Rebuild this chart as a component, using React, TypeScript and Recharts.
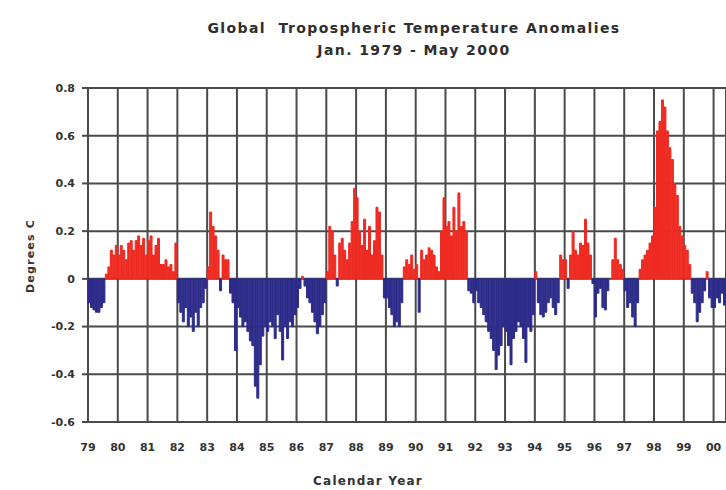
import { ComposedChart, Bar, Cell, XAxis, YAxis, CartesianGrid } from 'recharts';

const RED = '#ee2b22';
const BLUE = '#2d2c8a';
const GRID = '#4a4a4a';
const FONT = '"DejaVu Sans", Arial, sans-serif';

// monthly anomalies (deg C), Jan 1979 - May 2000
const y1979 = [-0.10, -0.12, -0.13, -0.14, -0.14, -0.12, -0.10, 0.02, 0.05, 0.12, 0.10, 0.14];
const y1980 = [0.10, 0.14, 0.12, 0.08, 0.15, 0.16, 0.12, 0.16, 0.18, 0.14, 0.17, 0.10];
const y1981 = [0.16, 0.18, 0.10, 0.14, 0.17, 0.06, 0.06, 0.08, 0.05, 0.06, 0.03, 0.15];
const y1982 = [-0.10, -0.14, -0.18, -0.12, -0.20, -0.16, -0.22, -0.14, -0.20, -0.12, -0.10, -0.04];
const y1983 = [0.05, 0.28, 0.22, 0.18, 0.12, -0.05, 0.10, 0.08, 0.08, -0.06, -0.10, -0.30];
const y1984 = [-0.12, -0.16, -0.20, -0.18, -0.22, -0.26, -0.28, -0.45, -0.50, -0.36, -0.24, -0.20];
const y1985 = [-0.22, -0.18, -0.20, -0.25, -0.15, -0.22, -0.34, -0.20, -0.25, -0.18, -0.20, -0.15];
const y1986 = [-0.12, -0.04, 0.01, -0.03, -0.08, -0.10, -0.14, -0.18, -0.23, -0.20, -0.15, -0.10];
const y1987 = [0.03, 0.22, 0.20, 0.10, -0.03, 0.15, 0.17, 0.12, 0.08, 0.15, 0.24, 0.38];
const y1988 = [0.34, 0.20, 0.14, 0.25, 0.12, 0.22, 0.10, 0.16, 0.30, 0.28, 0.10, -0.08];
const y1989 = [-0.08, -0.12, -0.15, -0.20, -0.18, -0.20, -0.10, 0.05, 0.08, 0.06, 0.10, 0.04];
const y1990 = [0.06, -0.14, 0.12, 0.08, 0.10, 0.13, 0.12, 0.10, 0.05, 0.03, 0.20, 0.34];
const y1991 = [0.22, 0.24, 0.18, 0.30, 0.20, 0.36, 0.22, 0.24, 0.20, -0.05, -0.06, -0.10];
const y1992 = [-0.05, -0.10, -0.12, -0.15, -0.18, -0.22, -0.25, -0.30, -0.38, -0.32, -0.28, -0.20];
const y1993 = [-0.22, -0.28, -0.36, -0.25, -0.22, -0.18, -0.20, -0.25, -0.35, -0.20, -0.22, -0.15];
const y1994 = [0.03, -0.10, -0.15, -0.16, -0.14, -0.10, -0.08, -0.12, -0.15, -0.10, 0.10, 0.08];
const y1995 = [0.08, -0.04, 0.10, 0.20, 0.12, 0.10, 0.15, 0.14, 0.25, 0.15, 0.10, -0.02];
const y1996 = [-0.16, -0.06, -0.04, -0.12, -0.13, -0.05, 0.00, 0.08, 0.17, 0.08, 0.06, 0.04];
const y1997 = [-0.05, -0.12, -0.10, -0.16, -0.20, -0.10, 0.04, 0.08, 0.10, 0.12, 0.15, 0.18];
const y1998 = [0.30, 0.62, 0.66, 0.75, 0.72, 0.62, 0.55, 0.50, 0.40, 0.35, 0.22, 0.18];
const y1999 = [0.14, 0.12, 0.06, -0.06, -0.10, -0.18, -0.14, -0.10, -0.05, 0.03, -0.08, -0.12];
const y2000 = [-0.12, -0.08, -0.10, -0.06, -0.11];

const yearLabels = ['79', '80', '81', '82', '83', '84', '85', '86', '87', '88', '89', '90', '91', '92', '93', '94', '95', '96', '97', '98', '99', '00'];
const yTicks = [-0.6, -0.4, -0.2, 0, 0.2, 0.4, 0.6, 0.8];

const monthly = [
  ...y1979, ...y1980, ...y1981, ...y1982, ...y1983, ...y1984, ...y1985, ...y1986,
  ...y1987, ...y1988, ...y1989, ...y1990, ...y1991, ...y1992, ...y1993, ...y1994,
  ...y1995, ...y1996, ...y1997, ...y1998, ...y1999, ...y2000,
];

const data = monthly.map((v, i) => ({ m: `m${i}`, i: i + 0.5, v }));
const yearTicks = yearLabels.map((_, k) => k * 12);

const tickStyle = { fontFamily: FONT, fontSize: 11, fontWeight: 'bold', fill: '#333' };

export default function App() {
  return (
    <div style={{ position: 'absolute', left: 0, top: 0, width: 726, height: 490, background: '#fff', overflow: 'hidden' }}>
      <div style={{ position: 'absolute', left: 0, width: 828, top: 17, textAlign: 'center', fontFamily: FONT, fontWeight: 'bold', fontSize: 14, letterSpacing: 1.4, color: '#2e2e2e', lineHeight: '22px' }}>
        <div>Global&nbsp; Tropospheric Temperature Anomalies</div>
        <div>Jan. 1979 - May 2000</div>
      </div>
      <div style={{ position: 'absolute', left: 30, top: 256, transform: 'translate(-50%, -50%) rotate(-90deg)', whiteSpace: 'nowrap', fontFamily: FONT, fontWeight: 'bold', fontSize: 11, letterSpacing: 1.2, color: '#333' }}>
        Degrees C
      </div>
      <div style={{ position: 'absolute', left: 368, top: 481, transform: 'translate(-50%, -50%)', whiteSpace: 'nowrap', fontFamily: FONT, fontWeight: 'bold', fontSize: 12, letterSpacing: 1.2, color: '#333' }}>
        Calendar Year
      </div>
      <ComposedChart width={726} height={490} data={data} margin={{ top: 88, right: 0, bottom: 0, left: 0 }} barCategoryGap={0} barGap={0}>
        <CartesianGrid xAxisId="yr" stroke={GRID} strokeWidth={2} />
        <XAxis xAxisId="cat" dataKey="m" hide height={0} />
        <XAxis
          xAxisId="yr"
          type="number"
          dataKey="i"
          domain={[0, monthly.length]}
          ticks={yearTicks}
          tickFormatter={(t) => yearLabels[t / 12]}
          allowDataOverflow
          axisLine={false}
          tickLine={false}
          tickSize={0}
          tickMargin={21}
          height={68}
          tick={tickStyle}
        />
        <YAxis
          domain={[-0.6, 0.8]}
          ticks={yTicks}
          tickFormatter={(t) => (t === 0 ? '0' : t.toFixed(1))}
          width={88}
          axisLine={false}
          tickLine={{ stroke: GRID, strokeWidth: 2 }}
          tickSize={6}
          tickMargin={7}
          tick={tickStyle}
          allowDataOverflow
        />
        <Bar xAxisId="cat" dataKey="v" isAnimationActive={false}>
          {data.map((d, idx) => (
            <Cell key={`c-${idx}`} fill={d.v >= 0 ? RED : BLUE} stroke={d.v >= 0 ? RED : BLUE} strokeWidth={1} />
          ))}
        </Bar>
      </ComposedChart>
    </div>
  );
}
